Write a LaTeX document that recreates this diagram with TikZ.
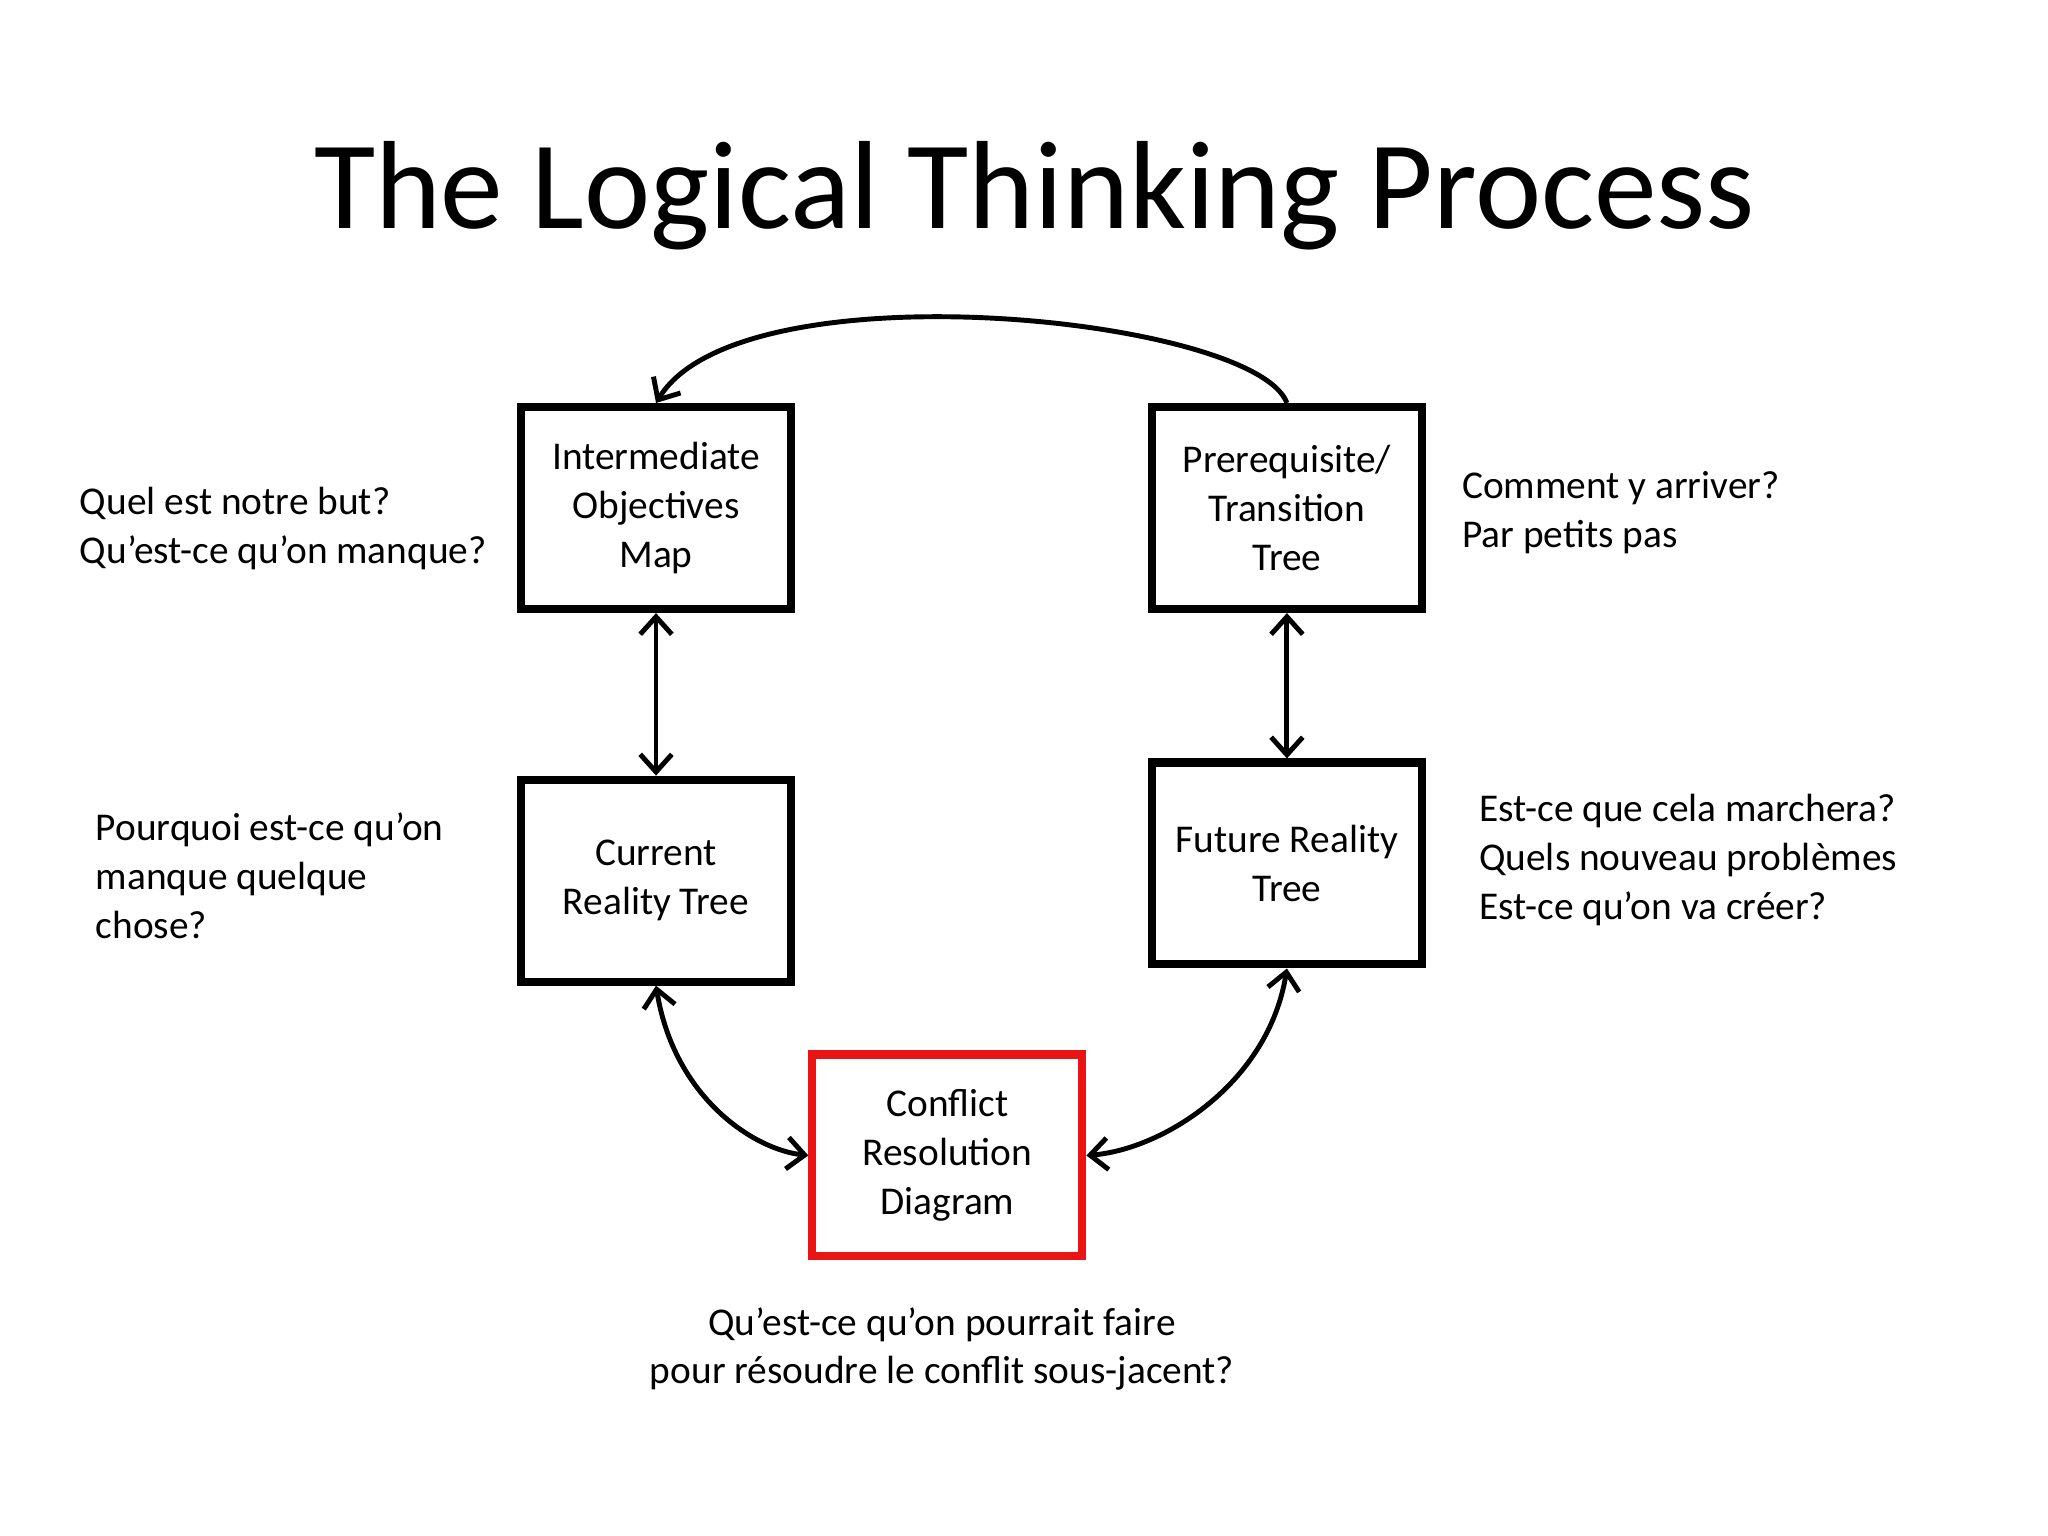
\documentclass[tikz,border=0pt]{standalone}
\usepackage{fontspec}
\setmainfont{Carlito}
\usetikzlibrary{arrows.meta}
\begin{document}
\begin{tikzpicture}[x=0.013213cm,y=-0.013213cm,
  box/.style={draw=black,line width=2.3pt,minimum width=2.7cm,minimum height=2.02cm,align=center,font=\fontsize{11.2}{13.9}\selectfont,inner sep=0pt},
  side/.style={align=left,font=\fontsize{11.2}{13.9}\selectfont,inner sep=0pt},
  conn/.style={line width=1.4pt,{Straight Barb[length=5pt,width=9pt,line width=1.4pt]}-{Straight Barb[length=5pt,width=9pt,line width=1.4pt]}}]
\useasboundingbox (0,0) rectangle (1550,1162);
\node[font=\fontsize{35.7}{38}\selectfont] (title) at (783,148) {The Logical Thinking Process};
\node[box] (iom) at (496.5,384.5) {Intermediate\\Objectives\\Map};
\node[box] (ptt) at (974,384.5) {Prerequisite/\\Transition\\Tree};
\node[box] (crt) at (496.5,666.5) {Current\\Reality Tree};
\node[box] (frt) at (974,653.5) {Future Reality\\Tree};
\node[box,draw={rgb,255:red,235;green,20;blue,20}] (crd) at (717,874.5) {Conflict\\Resolution\\Diagram};
\node[side,anchor=west] (t1) at (60,400) {Quel est notre but?\\Qu’est-ce qu’on manque?};
\node[side,anchor=west] (t2) at (72,663) {Pourquoi est-ce qu’on\\manque quelque\\chose?};
\node[side,anchor=west] (t3) at (1106,388) {Comment y arriver?\\Par petits pas};
\node[side,anchor=west] (t4) at (1119,651) {Est-ce que cela marchera?\\Quels nouveau problèmes\\Est-ce qu’on va créer?};
\node[side,align=center] (t5) at (713,1021) {Qu’est-ce qu’on pourrait faire\\pour résoudre le conflit sous-jacent?};
\draw[line width=1.4pt,-{Straight Barb[length=5pt,width=9pt,line width=1.4pt]}] (ptt.north) .. controls (950,240) and (560,200) .. (iom.north);
\draw[conn] (iom.south) -- (crt.north);
\draw[conn] (ptt.south) -- (frt.north);
\draw[conn] (crt.south) .. controls (510,830) and (570,870) .. (crd.west);
\draw[conn] (frt.south) .. controls (960,820) and (880,870) .. (crd.east);
\end{tikzpicture}
\end{document}
